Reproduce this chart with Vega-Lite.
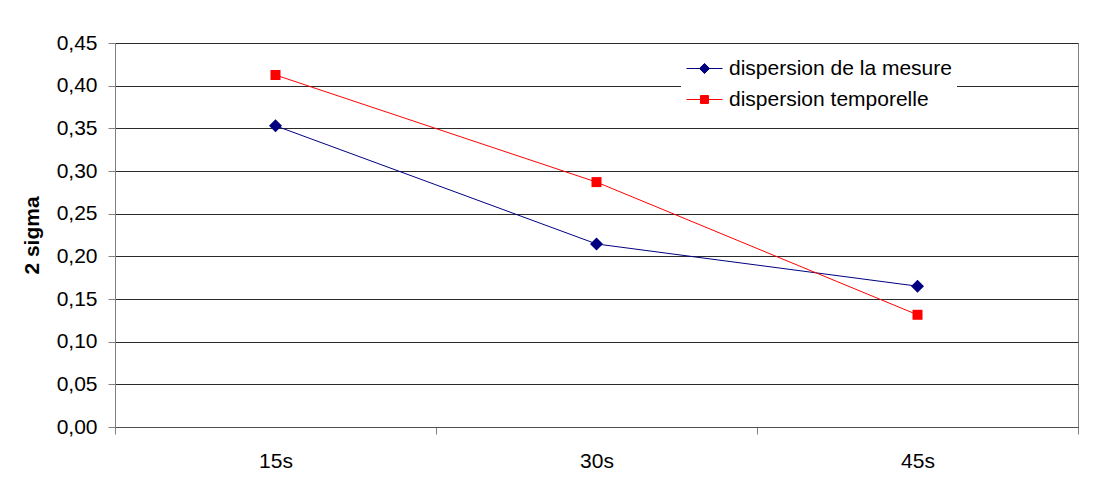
{
  "$schema": "https://vega.github.io/schema/vega-lite/v6.json",
  "autosize": "none",
  "width": 963,
  "height": 384,
  "padding": {"left": 115, "top": 43, "right": 36, "bottom": 61},
  "background": "white",
  "config": {
    "font": "Liberation Sans",
    "view": {"stroke": "#808080", "strokeWidth": 1},
    "legend": {
      "orient": "none",
      "legendX": 566,
      "legendY": 2,
      "fillColor": "white",
      "strokeColor": null,
      "padding": 5,
      "symbolSize": 1296,
      "symbolStrokeWidth": 1,
      "labelFont": "Liberation Sans",
      "labelFontSize": 21,
      "labelColor": "black",
      "labelOffset": 6,
      "rowPadding": 2,
      "labelLimit": 400
    }
  },
  "data": {
    "values": [
      {"t": "15s", "series": "dispersion de la mesure", "value": 0.353},
      {"t": "30s", "series": "dispersion de la mesure", "value": 0.2145},
      {"t": "45s", "series": "dispersion de la mesure", "value": 0.165},
      {"t": "15s", "series": "dispersion temporelle", "value": 0.4125},
      {"t": "30s", "series": "dispersion temporelle", "value": 0.287},
      {"t": "45s", "series": "dispersion temporelle", "value": 0.1315}
    ]
  },
  "encoding": {
    "x": {
      "field": "t",
      "type": "nominal",
      "sort": ["15s", "30s", "45s"],
      "scale": {"type": "band", "paddingInner": 0, "paddingOuter": 0},
      "axis": {
        "title": null,
        "labelAngle": 0,
        "labelFontSize": 21,
        "labelColor": "black",
        "labelPadding": 16,
        "tickBand": "extent",
        "tickSize": 7,
        "tickColor": "#808080",
        "domainColor": "#505050",
        "grid": false
      }
    },
    "y": {
      "field": "value",
      "type": "quantitative",
      "scale": {"domain": [0, 0.45], "nice": false, "zero": true},
      "axis": {
        "title": "2 sigma",
        "titleFontSize": 21,
        "titleFontWeight": "bold",
        "titleColor": "black",
        "titlePadding": 14,
        "values": [0, 0.05, 0.1, 0.15, 0.2, 0.25, 0.3, 0.35, 0.4, 0.45],
        "labelExpr": "replace(format(datum.value, '.2f'), '.', ',')",
        "labelFontSize": 21,
        "labelColor": "black",
        "labelPadding": 11,
        "tickSize": 7,
        "tickColor": "#808080",
        "domainColor": "#808080",
        "grid": true,
        "gridColor": "#2a2a2a",
        "gridWidth": 1
      }
    }
  },
  "layer": [
    {
      "transform": [{"filter": "datum.series === 'dispersion de la mesure'"}],
      "mark": {
        "type": "line",
        "color": "#000080",
        "strokeWidth": 1,
        "point": {"shape": "diamond", "size": 169, "filled": true, "color": "#000080", "opacity": 1}
      }
    },
    {
      "transform": [{"filter": "datum.series === 'dispersion temporelle'"}],
      "mark": {
        "type": "line",
        "color": "#FF0000",
        "strokeWidth": 1,
        "point": {"shape": "square", "size": 100, "filled": true, "color": "#FF0000", "opacity": 1}
      }
    },
    {
      "transform": [{"filter": "false"}],
      "mark": {"type": "point", "filled": true, "opacity": 1, "strokeWidth": 1},
      "encoding": {
        "color": {
          "field": "series",
          "type": "nominal",
          "title": null,
          "scale": {"domain": ["dispersion de la mesure", "dispersion temporelle"], "range": ["#000080", "#FF0000"]}
        },
        "stroke": {
          "field": "series",
          "type": "nominal",
          "title": null,
          "scale": {"domain": ["dispersion de la mesure", "dispersion temporelle"], "range": ["#000080", "#FF0000"]}
        },
        "shape": {
          "field": "series",
          "type": "nominal",
          "title": null,
          "scale": {
            "domain": ["dispersion de la mesure", "dispersion temporelle"],
            "range": ["M-1,0H1M0,-0.28L0.28,0L0,0.28L-0.28,0Z", "M-1,0H1M-0.22,-0.22H0.22V0.22H-0.22Z"]
          }
        }
      }
    }
  ]
}
